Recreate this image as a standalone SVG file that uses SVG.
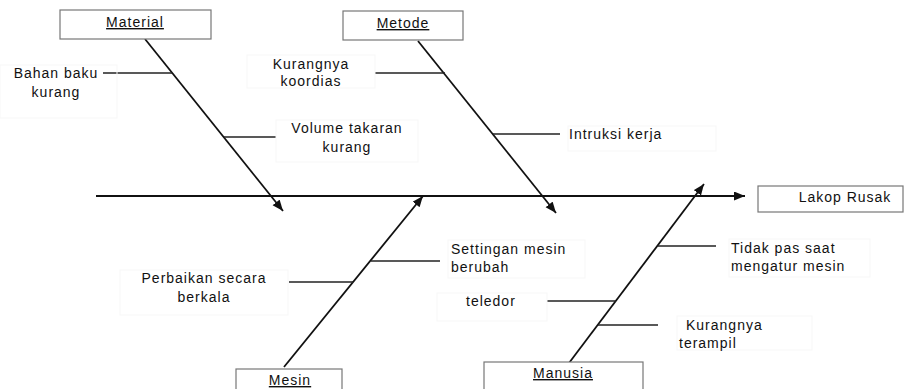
<svg xmlns="http://www.w3.org/2000/svg" width="905" height="389" viewBox="0 0 905 389">
<style>
text{font-family:"Liberation Sans",Arial,sans-serif;font-size:14px;letter-spacing:1px;fill:#111}
.t{text-decoration:underline}
.box{fill:#fff;stroke:#777;stroke-width:1.2}
.faint{fill:none;stroke:#f7f7f7;stroke-width:1}
.bone{stroke:#111;stroke-width:1.8;fill:none}
.sub{stroke:#222;stroke-width:1.3;fill:none}
</style>
<defs>
<marker id="ah" markerUnits="userSpaceOnUse" markerWidth="12" markerHeight="10" refX="11" refY="4.5" orient="auto">
<path d="M0,0 L11,4.5 L0,9 z" fill="#111"/>
</marker>
</defs>
<g id="connectors">
<line class="bone" x1="96" y1="196" x2="745" y2="196" marker-end="url(#ah)"/>
<line class="bone" x1="145" y1="39" x2="283" y2="211" marker-end="url(#ah)"/>
<line class="bone" x1="418" y1="41" x2="556" y2="213" marker-end="url(#ah)"/>
<line class="bone" x1="284" y1="367" x2="423" y2="196" marker-end="url(#ah)"/>
<line class="bone" x1="569" y1="363" x2="704" y2="184" marker-end="url(#ah)"/>
<line class="sub" x1="103" y1="73" x2="172" y2="73"/>
<line class="sub" x1="224" y1="137" x2="276" y2="137"/>
<line class="sub" x1="375" y1="73" x2="445" y2="73"/>
<line class="sub" x1="493" y1="134" x2="560" y2="134"/>
<line class="sub" x1="289" y1="282" x2="353" y2="282"/>
<line class="sub" x1="371" y1="261" x2="440" y2="261"/>
<line class="sub" x1="547" y1="301" x2="616" y2="301"/>
<line class="sub" x1="658" y1="246" x2="716" y2="246"/>
<line class="sub" x1="598" y1="325" x2="658" y2="325"/>
</g>
<g id="material">
<rect class="box" x="60" y="10" width="151" height="29"/>
<text class="t" x="135" y="27" text-anchor="middle">Material</text>
</g>
<g id="metode">
<rect class="box" x="343" y="11" width="120" height="29"/>
<text class="t" x="403" y="28" text-anchor="middle">Metode</text>
</g>
<g id="mesin">
<rect class="box" x="236" y="369" width="106" height="25"/>
<text class="t" x="290" y="385" text-anchor="middle">Mesin</text>
</g>
<g id="manusia">
<rect class="box" x="484" y="362" width="159" height="32"/>
<text class="t" x="563" y="378" text-anchor="middle">Manusia</text>
</g>
<g id="lakop-rusak">
<rect class="box" x="758" y="186" width="145" height="26"/>
<text x="845" y="202" text-anchor="middle">Lakop Rusak</text>
</g>
<g id="bahan-baku">
<rect class="faint" x="0" y="65" width="117" height="53"/>
<text x="56" y="78" text-anchor="middle">Bahan baku</text>
<text x="56" y="97" text-anchor="middle">kurang</text>
</g>
<g id="volume-takaran">
<rect class="faint" x="276" y="120" width="142" height="42"/>
<text x="347" y="133" text-anchor="middle">Volume takaran</text>
<text x="347" y="152" text-anchor="middle">kurang</text>
</g>
<g id="kurangnya-koordias">
<rect class="faint" x="247" y="55" width="128" height="33"/>
<text x="311" y="69" text-anchor="middle">Kurangnya</text>
<text x="311" y="86" text-anchor="middle">koordias</text>
</g>
<g id="intruksi-kerja">
<rect class="faint" x="568" y="126" width="148" height="25"/>
<text x="569" y="139">Intruksi kerja</text>
</g>
<g id="perbaikan">
<rect class="faint" x="120" y="270" width="168" height="45"/>
<text x="204" y="283" text-anchor="middle">Perbaikan secara</text>
<text x="204" y="302" text-anchor="middle">berkala</text>
</g>
<g id="settingan">
<rect class="faint" x="448" y="240" width="137" height="38"/>
<text x="451" y="254">Settingan mesin</text>
<text x="451" y="272">berubah</text>
</g>
<g id="teledor">
<rect class="faint" x="437" y="293" width="110" height="28"/>
<text x="466" y="306">teledor</text>
</g>
<g id="tidak-pas">
<rect class="faint" x="729" y="239" width="141" height="38"/>
<text x="731" y="253">Tidak pas saat</text>
<text x="731" y="271">mengatur mesin</text>
</g>
<g id="kurangnya-terampil">
<rect class="faint" x="677" y="316" width="135" height="34"/>
<text x="686" y="330">Kurangnya</text>
<text x="679" y="348">terampil</text>
</g>
</svg>
